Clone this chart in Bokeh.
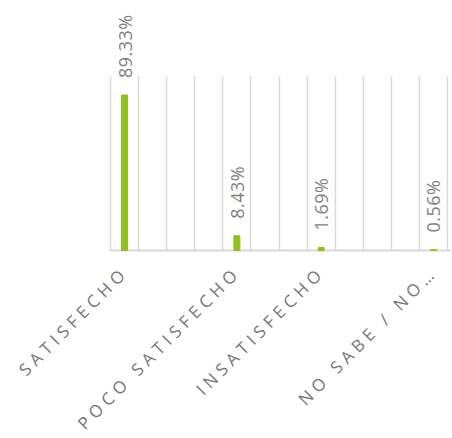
import math
from bokeh.plotting import figure
from bokeh.layouts import column
from bokeh.models import ColumnDataSource, FixedTicker, Range1d, InlineStyleSheet
from bokeh.core.properties import value
from bokeh.embed import file_html
from bokeh.resources import INLINE

categories = ["SATISFECHO", "POCO SATISFECHO", "INSATISFECHO", "NO SABE / NO…"]
slots = [0.5, 4.5, 7.5, 11.5]
percent = [89.33, 8.43, 1.69, 0.56]
value_labels = ["89.33%", "8.43%", "1.69%", "0.56%"]

# layout constants (pixels)
W, H_TOP, H_BOT = 452, 255, 183
PLOT_LEFT, PLOT_RIGHT = 110, 447      # x pixel of slot 0 and slot 12
BASE_Y, TOP_Y = 250, 76               # y pixel of 0 % and 100 %
N_SLOTS = 12
ppu = (PLOT_RIGHT - PLOT_LEFT) / N_SLOTS
px_per_pct = (BASE_Y - TOP_Y) / 100.0

CAT_LS = 4.8   # letter spacing of category labels
VAL_LS = 0.5   # letter spacing of value labels

xr_start = -PLOT_LEFT / ppu
xr_end = N_SLOTS + (W - PLOT_RIGHT) / ppu

src = ColumnDataSource(dict(x=slots, y=percent, lab=value_labels))

p = figure(width=W, height=H_TOP, output_backend="svg", toolbar_location=None,
           x_range=Range1d(xr_start, xr_end),
           y_range=Range1d(-(H_TOP - BASE_Y) / px_per_pct, BASE_Y / px_per_pct),
           min_border_left=0, min_border_right=0, min_border_top=0, min_border_bottom=0)
p.outline_line_color = None
p.background_fill_color = "white"
p.border_fill_color = "white"
p.stylesheets = [InlineStyleSheet(css=":host { letter-spacing: %spx; }" % VAL_LS)]

p.vbar(x="x", top="y", width=0.214, bottom=0, source=src, color="#8DC21F")
p.text(x="x", y="y", text="lab", source=src, angle=math.pi / 2, y_offset=-17,
       text_align="left", text_baseline="middle", text_color="#7F7F7F",
       text_font=value("Open Sans"), text_font_size="18px")

p.xaxis.visible = False
p.yaxis.visible = False
p.xgrid.ticker = FixedTicker(ticks=list(range(N_SLOTS + 1)))
p.xgrid.cross_bounds = (0, 100)
p.xgrid.grid_line_color = "#D9D9D9"
p.xgrid.grid_line_width = 1.5
p.ygrid.ticker = FixedTicker(ticks=[0])
p.ygrid.cross_bounds = (-0.03, N_SLOTS + 0.1)
p.ygrid.grid_line_color = "#D9D9D9"
p.ygrid.grid_line_width = 2

# category labels (second canvas so that they can get their own letter spacing)
c45 = math.cos(math.pi / 4)
ext = [(len(c) - 1) * CAT_LS for c in categories]
csrc = ColumnDataSource(dict(x=slots, y=[1] * len(slots), t=categories,
                             xo=[-3 - e * c45 for e in ext],
                             yo=[17 + e * c45 for e in ext]))
p2 = figure(width=W, height=H_BOT, output_backend="svg", toolbar_location=None,
            x_range=Range1d(xr_start, xr_end), y_range=Range1d(0, 1),
            min_border_left=0, min_border_right=0, min_border_top=0, min_border_bottom=0)
p2.outline_line_color = None
p2.background_fill_color = "white"
p2.border_fill_color = "white"
p2.xaxis.visible = False
p2.yaxis.visible = False
p2.grid.visible = False
p2.stylesheets = [InlineStyleSheet(css=":host { letter-spacing: %spx; }" % CAT_LS)]
p2.text(x="x", y="y", text="t", source=csrc, angle=math.pi / 4,
        x_offset="xo", y_offset="yo", text_align="right", text_baseline="middle",
        text_color="#767676", text_font=value("Open Sans"), text_font_size="17px")

layout = column(p, p2, spacing=0)
open("out.html", "w").write(file_html(layout, INLINE))
